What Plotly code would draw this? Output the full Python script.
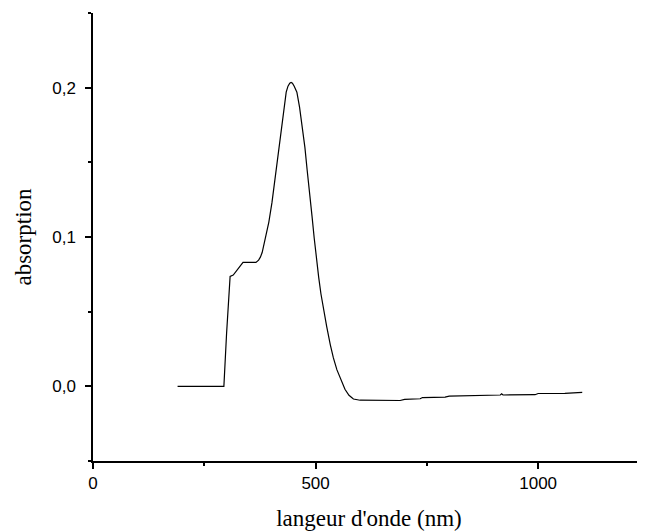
import plotly.graph_objects as go

wavelength = [190, 294, 300, 308, 315, 322, 330, 337, 350, 366, 372, 376, 380, 387, 395, 402, 408, 413, 419, 425,
              430, 434, 438, 442, 445, 448, 452, 458, 464, 470, 476, 481, 487, 492, 497, 501, 507, 512, 517,
              525, 533, 540, 548, 557, 566, 575, 585, 600, 650, 690,
              700, 708, 735, 740, 791, 800, 854, 860, 915, 918, 921, 993, 1000, 1060, 1080, 1085, 1099]
absorption = [0.0, 0.0, 0.035, 0.0736, 0.0745, 0.077, 0.080, 0.083, 0.083, 0.083, 0.0845, 0.0865, 0.0896, 0.0997,
              0.110, 0.123, 0.137, 0.152, 0.166, 0.179,
              0.190, 0.197, 0.2010, 0.2030, 0.2035, 0.2030, 0.2010, 0.197, 0.187, 0.174, 0.160, 0.145, 0.130,
              0.114, 0.099, 0.087, 0.073, 0.062, 0.053,
              0.040, 0.028, 0.019, 0.011, 0.004, -0.002, -0.006, -0.0085, -0.0093, -0.0094, -0.0095,
              -0.0088, -0.0087, -0.0083, -0.0075, -0.0072, -0.0066, -0.0064, -0.0060, -0.0058, -0.0050, -0.0058,
              -0.0056, -0.0048, -0.0047, -0.0045, -0.0042, -0.0040]

y_major = [0.0, 0.1, 0.2]
y_minor = [-0.05, 0.05, 0.15, 0.25]
x_major = [0, 500, 1000]
x_minor = [250, 750]

fig = go.Figure()
fig.add_trace(go.Scatter(x=wavelength, y=absorption, mode="lines",
                         line=dict(color="black", width=1.2), showlegend=False))

fig.update_layout(
    width=637, height=523,
    margin=dict(l=85, r=0, t=5, b=70, autoexpand=False),
    paper_bgcolor="white", plot_bgcolor="white",
    separators=",.",
    font=dict(family="Liberation Sans, Arial", size=17, color="black"),
)
fig.update_xaxes(
    range=[0, 1240], tickvals=x_major, ticks="outside", ticklen=6, tickwidth=1.5,
    tickcolor="black", showline=True, linecolor="black", linewidth=1.5,
    showgrid=False, zeroline=False, automargin=False,
    minor=dict(tickvals=x_minor, ticks="outside", ticklen=3, tickwidth=1.5, tickcolor="black", showgrid=False),
    title=dict(text="langeur d'onde (nm)", font=dict(family="Liberation Serif, Times New Roman", size=23), standoff=18),
)
fig.update_yaxes(
    range=[-0.05, 0.25], tickvals=y_major, tickformat=".1f", ticks="outside", ticklen=6, tickwidth=1.5,
    tickcolor="black", showline=True, linecolor="black", linewidth=1.5,
    showgrid=False, zeroline=False, automargin=False, ticklabelstandoff=6,
    minor=dict(tickvals=y_minor, ticks="outside", ticklen=3, tickwidth=1.5, tickcolor="black", showgrid=False),
    title=dict(text="absorption", font=dict(family="Liberation Serif, Times New Roman", size=23), standoff=14),
)

fig.write_html("out.html")
